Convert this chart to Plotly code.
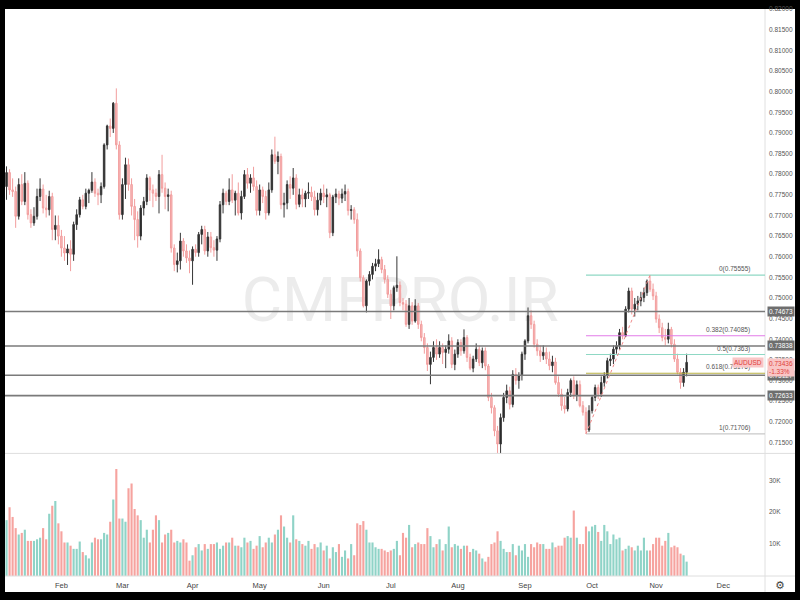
import pandas as pd
import plotly.graph_objects as go
from plotly.subplots import make_subplots

# ---------------- data ----------------
start_date = "2021-01-06"
symbol = "AUDUSD"
last_price = 0.73436
last_change = "-1.33%"

opens = [
 .7770,.7804,.7762,.7758,.7698,.7775,.7734,.7778,.7702,.7682,
 .7698,.7746,.7764,.7718,.7714,.7746,.7666,.7676,.7650,.7621,
 .7609,.7619,.7606,.7678,.7702,.7738,.7722,.7754,.7761,.7781,
 .7754,.7750,.7770,.7871,.7917,.7911,.7972,.7871,.7702,.7775,
 .7823,.7775,.7722,.7690,.7650,.7718,.7734,.7791,.7762,.7754,
 .7746,.7799,.7766,.7746,.7750,.7621,.7581,.7590,.7638,.7614,
 .7597,.7590,.7618,.7610,.7654,.7666,.7614,.7648,.7622,.7616,
 .7643,.7726,.7754,.7734,.7762,.7737,.7754,.7706,.7746,.7799,
 .7778,.7791,.7770,.7712,.7762,.7746,.7706,.7762,.7847,.7831,
 .7843,.7726,.7730,.7775,.7766,.7791,.7727,.7750,.7740,.7754,
 .7756,.7745,.7714,.7737,.7754,.7745,.7750,.7658,.7745,.7752,
 .7742,.7752,.7758,.7712,.7714,.7690,.7614,.7549,.7481,.7541,
 .7557,.7577,.7583,.7593,.7569,.7545,.7509,.7481,.7525,.7531,
 .7489,.7485,.7436,.7481,.7444,.7481,.7436,.7404,.7380,.7339,
 .7356,.7380,.7364,.7380,.7368,.7376,.7396,.7339,.7364,.7392,
 .7372,.7404,.7356,.7330,.7352,.7376,.7343,.7372,.7335,.7259,
 .7234,.7178,.7146,.7210,.7259,.7275,.7242,.7315,.7300,.7312,
 .7364,.7396,.7457,.7436,.7388,.7372,.7360,.7368,.7352,.7336,
 .7345,.7295,.7267,.7239,.7231,.7271,.7300,.7265,.7290,.7239,
 .7223,.7180,.7227,.7259,.7283,.7267,.7295,.7312,.7348,.7352,
 .7376,.7384,.7416,.7408,.7473,.7517,.7473,.7485,.7493,.7501,
 .7513,.7541,.7521,.7505,.7449,.7428,.7404,.7400,.7424,.7388,
 .7352,.7320,.7295,.7320]
highs = [
 .7819,.7812,.7790,.7770,.7790,.7800,.7805,.7785,.7715,.7720,
 .7765,.7790,.7775,.7750,.7760,.7755,.7700,.7700,.7665,.7650,
 .7630,.7640,.7685,.7715,.7745,.7750,.7765,.7765,.7805,.7790,
 .7765,.7780,.7875,.7920,.7935,.7975,.8008,.7880,.7790,.7840,
 .7838,.7790,.7740,.7710,.7725,.7745,.7800,.7795,.7775,.7765,
 .7810,.7847,.7780,.7765,.7760,.7630,.7610,.7658,.7645,.7630,
 .7615,.7625,.7630,.7660,.7675,.7675,.7660,.7660,.7640,.7650,
 .7735,.7765,.7760,.7790,.7800,.7760,.7780,.7760,.7810,.7815,
 .7800,.7818,.7785,.7775,.7770,.7760,.7780,.7860,.7891,.7855,
 .7850,.7755,.7785,.7795,.7815,.7800,.7765,.7765,.7760,.7780,
 .7770,.7760,.7755,.7765,.7775,.7765,.7755,.7750,.7765,.7760,
 .7765,.7775,.7765,.7725,.7720,.7705,.7620,.7555,.7545,.7565,
 .7585,.7595,.7618,.7600,.7580,.7555,.7520,.7530,.7601,.7540,
 .7500,.7495,.7500,.7490,.7497,.7488,.7445,.7415,.7390,.7370,
 .7395,.7400,.7395,.7390,.7385,.7412,.7405,.7375,.7400,.7400,
 .7424,.7410,.7365,.7360,.7390,.7385,.7380,.7380,.7340,.7270,
 .7240,.7190,.7220,.7270,.7290,.7285,.7325,.7330,.7320,.7370,
 .7400,.7477,.7470,.7445,.7400,.7385,.7385,.7380,.7370,.7360,
 .7355,.7310,.7280,.7260,.7280,.7305,.7310,.7300,.7300,.7250,
 .7235,.7240,.7265,.7290,.7290,.7310,.7320,.7355,.7365,.7385,
 .7395,.7425,.7430,.7480,.7525,.7525,.7500,.7505,.7515,.7525,
 .7545,.75555,.7535,.7515,.7460,.7440,.7425,.7440,.7430,.7400,
 .7365,.7330,.7330,.7365]
lows = [
 .7738,.7750,.7745,.7670,.7690,.7725,.7725,.7690,.7670,.7675,
 .7690,.7735,.7705,.7695,.7700,.7640,.7640,.7630,.7600,.7590,
 .7580,.7565,.7590,.7665,.7695,.7715,.7715,.7730,.7755,.7745,
 .7725,.7730,.7765,.7860,.7890,.7900,.7860,.7690,.7690,.7740,
 .7760,.7700,.7640,.7622,.7640,.7700,.7725,.7735,.7720,.7735,
 .7705,.7755,.7715,.7710,.7610,.7565,.7562,.7569,.7600,.7585,
 .7560,.7532,.7600,.7600,.7630,.7605,.7600,.7610,.7600,.7590,
 .7635,.7705,.7725,.7725,.7730,.7700,.7700,.7690,.7740,.7765,
 .7755,.7760,.7700,.7700,.7730,.7690,.7700,.7755,.7825,.7800,
 .7715,.7695,.7715,.7740,.7750,.7715,.7720,.7720,.7720,.7740,
 .7735,.7700,.7700,.7725,.7730,.7720,.7645,.7650,.7730,.7725,
 .7730,.7735,.7700,.7690,.7680,.7600,.7540,.7477,.7465,.7530,
 .7545,.7565,.7575,.7560,.7535,.7500,.7449,.7470,.7515,.7480,
 .7470,.7430,.7425,.7435,.7440,.7425,.7395,.7365,.7323,.7291,
 .7345,.7350,.7355,.7340,.7330,.7365,.7330,.7325,.7355,.7360,
 .7365,.7345,.7325,.7320,.7345,.7335,.7330,.7325,.7250,.7220,
 .7165,.7115,.7110,.7200,.7245,.7230,.7235,.7290,.7280,.7300,
 .7350,.7390,.7425,.7380,.7360,.7345,.7350,.7340,.7325,.7320,
 .7290,.7260,.7227,.7220,.7225,.7260,.7255,.7250,.7235,.7215,
 .71706,.7175,.7220,.7250,.7255,.7260,.7285,.7305,.7335,.7340,
 .7365,.7375,.7400,.7405,.7465,.7460,.7455,.7470,.7480,.7490,
 .7505,.7515,.7495,.7440,.7415,.7395,.7385,.7390,.7380,.7345,
 .7315,.7280,.7285,.7310]
closes = [
 .7804,.7762,.7758,.7698,.7775,.7734,.7778,.7702,.7682,.7698,
 .7746,.7764,.7718,.7714,.7746,.7666,.7676,.7650,.7621,.7609,
 .7619,.7606,.7678,.7702,.7738,.7722,.7754,.7761,.7781,.7754,
 .7750,.7770,.7871,.7917,.7911,.7972,.7871,.7702,.7775,.7823,
 .7775,.7722,.7690,.7650,.7718,.7734,.7791,.7762,.7754,.7746,
 .7799,.7766,.7746,.7750,.7621,.7581,.7590,.7638,.7614,.7597,
 .7590,.7618,.7610,.7654,.7666,.7614,.7648,.7622,.7616,.7643,
 .7726,.7754,.7734,.7762,.7737,.7754,.7706,.7746,.7799,.7778,
 .7791,.7770,.7712,.7762,.7746,.7706,.7762,.7847,.7831,.7843,
 .7726,.7730,.7775,.7766,.7791,.7727,.7750,.7740,.7754,.7756,
 .7745,.7714,.7737,.7754,.7745,.7750,.7658,.7745,.7752,.7742,
 .7752,.7758,.7712,.7714,.7690,.7614,.7549,.7481,.7541,.7557,
 .7577,.7583,.7593,.7569,.7545,.7509,.7481,.7525,.7531,.7489,
 .7485,.7436,.7481,.7444,.7481,.7436,.7404,.7380,.7339,.7356,
 .7380,.7364,.7380,.7368,.7376,.7396,.7339,.7364,.7392,.7372,
 .7404,.7356,.7330,.7352,.7376,.7343,.7372,.7335,.7259,.7234,
 .7178,.7146,.7210,.7259,.7275,.7242,.7315,.7300,.7312,.7364,
 .7396,.7457,.7436,.7388,.7372,.7360,.7368,.7352,.7336,.7345,
 .7295,.7267,.7239,.7231,.7271,.7300,.7265,.7290,.7239,.7223,
 .7180,.7227,.7259,.7283,.7267,.7295,.7312,.7348,.7352,.7376,
 .7384,.7416,.7408,.7473,.7517,.7473,.7485,.7493,.7501,.7513,
 .7541,.7521,.7505,.7449,.7428,.7404,.7400,.7424,.7388,.7352,
 .7320,.7295,.7320,.7344]
volumes_k = [
 17.5,21.5,18.5,15.0,13.0,13.5,14.5,11.0,11.0,11.0,
 11.5,12.0,15.0,11.5,19.5,22.0,23.5,16.5,14.0,10.5,
 10.5,9.5,8.5,8.5,10.8,7.5,6.5,5.5,10.5,12.0,
 11.5,11.5,13.5,13.0,17.0,24.0,33.5,18.0,18.0,17.0,
 27.5,29.0,21.0,19.0,17.5,12.0,14.5,10.5,14.5,19.0,
 17.5,10.5,13.0,13.5,14.5,10.5,11.0,10.5,11.5,10.5,
 4.8,6.5,9.0,10.0,8.0,10.0,8.5,10.0,10.0,10.5,
 8.5,9.5,10.5,10.5,12.0,9.5,9.5,9.0,12.0,10.5,
 11.0,8.5,9.5,12.5,9.0,10.5,12.0,10.5,13.0,14.5,
 19.0,15.5,12.0,10.5,19.0,11.5,11.0,10.0,9.5,11.0,
 8.5,10.0,9.0,10.5,8.0,9.5,5.5,9.0,7.5,10.0,
 6.0,8.0,5.5,10.0,6.5,16.5,16.0,17.2,14.5,10.5,
 10.5,9.0,8.5,8.5,8.0,7.5,8.0,8.5,11.0,6.5,
 13.5,12.0,16.0,9.0,10.0,10.5,10.0,10.0,15.0,12.5,
 9.0,10.0,11.5,8.0,10.0,15.5,9.0,10.0,9.5,8.5,
 9.5,9.5,7.5,8.5,8.0,7.0,5.5,4.5,6.0,10.0,
 10.5,14.0,11.0,8.5,7.5,7.5,10.0,6.5,9.5,8.0,
 10.0,6.0,10.0,9.0,10.5,10.0,10.0,8.5,8.5,10.5,
 9.0,9.5,9.5,12.0,12.5,12.0,20.5,12.0,10.0,10.0,
 15.5,14.0,15.5,16.0,13.8,11.0,16.0,14.0,10.0,13.0,
 11.5,12.0,8.0,8.5,9.5,9.0,8.0,9.5,8.0,12.0,
 8.0,8.0,10.0,12.0,12.0,9.5,11.0,13.5,9.0,9.5,
 9.0,7.0,6.5,4.5]

month_labels = ["Feb", "Mar", "Apr", "May", "Jun", "Jul", "Aug", "Sep", "Oct", "Nov", "Dec"]
volume_ticks = [10, 20, 30]
volume_ticktext = ["10K", "20K", "30K"]

h_levels = [0.74673, 0.73838, 0.73127, 0.72633]

fib_low_date = "2021-09-29"
fib_high_date = "2021-10-28"
fib_prices = [0.75555, 0.74085, 0.7363, 0.73176, 0.71706]
fib_texts = ["0(0.75555)", "0.382(0.74085)", "0.5(0.7363)", "0.618(0.73176)", "1(0.71706)"]
fib_colors = ["#8fd8c4", "#e27be8", "#8fd8c4", "#b9b042", "#c9c9c9"]

# ---------------- derived positions ----------------
dates = pd.bdate_range(start_date, periods=len(closes))
calendar = pd.bdate_range(start_date, "2021-12-31")
idx = list(range(len(dates)))
cal_pos = {d: i for i, d in enumerate(calendar)}
month_pos = [i for i in range(1, len(calendar)) if calendar[i].month != calendar[i - 1].month]
fib_x0 = cal_pos[pd.Timestamp(fib_low_date)]
fib_x1 = cal_pos[pd.Timestamp(fib_high_date)]

X_RANGE = [-0.5, 248.7]
Y_RANGE = [0.71233, 0.82004]
V_RANGE = [0, 38.4]
PANE_SPLIT = 0.2162

UP_FILL, UP_LINE = "#262626", "#363636"
DN_FILL, DN_LINE = "#f7bcbc", "#f29d9d"
VOL_UP, VOL_DN = "#8fd3c7", "#f6a39f"
FONT = "Liberation Sans, Arial"

fig = make_subplots(rows=2, cols=1, shared_xaxes=True, vertical_spacing=0,
                    row_heights=[1 - PANE_SPLIT, PANE_SPLIT])

fig.add_trace(go.Candlestick(
    x=idx, open=opens, high=highs, low=lows, close=closes,
    increasing=dict(fillcolor=UP_FILL, line=dict(color=UP_LINE, width=1)),
    decreasing=dict(fillcolor=DN_FILL, line=dict(color=DN_LINE, width=1)),
    whiskerwidth=0, name=symbol, hoverinfo="skip"), row=1, col=1)

vol_colors = [VOL_UP if c >= o else VOL_DN for o, c in zip(opens, closes)]
fig.add_trace(go.Bar(x=idx, y=volumes_k, marker=dict(color=vol_colors, line=dict(width=0)),
                     name="Volume", hoverinfo="skip"), row=2, col=1)

shapes = []
# white chart canvas inside the black frame
shapes.append(dict(type="rect", xref="paper", yref="paper", x0=0, x1=1.0395, y0=-0.0281, y1=1,
                   fillcolor="white", line=dict(width=0), layer="below"))
# watermark
shapes.append(dict(type="rect", xref="paper", yref="paper", x0=0.25, x1=0.79, y0=0.40, y1=0.59,
                   fillcolor="rgba(0,0,0,0)", line=dict(width=0), layer="below",
                   label=dict(text="CMFPRO.IR", textposition="middle center",
                              font=dict(size=62, color="#ececec", family="Roboto"))))
# axis / pane separators
shapes.append(dict(type="line", xref="paper", yref="paper", x0=1, x1=1, y0=-0.0281, y1=1,
                   line=dict(color="#e0e0e0", width=1)))
shapes.append(dict(type="line", xref="paper", yref="paper", x0=0, x1=1.0395, y0=PANE_SPLIT, y1=PANE_SPLIT,
                   line=dict(color="#dedede", width=1)))
shapes.append(dict(type="line", xref="paper", yref="paper", x0=0, x1=1.0395, y0=0, y1=0,
                   line=dict(color="#dedede", width=1)))
# horizontal support/resistance lines
for lv in h_levels:
    shapes.append(dict(type="line", xref="paper", yref="y", x0=0, x1=1, y0=lv, y1=lv,
                       line=dict(color="#7a7a7a", width=1.6)))
# fibonacci lines
for p, col in zip(fib_prices, fib_colors):
    shapes.append(dict(type="line", xref="x", yref="y", x0=fib_x0, x1=X_RANGE[1], y0=p, y1=p,
                       line=dict(color=col, width=1.2)))
shapes.append(dict(type="line", xref="x", yref="y", x0=fib_x0, x1=fib_x1,
                   y0=fib_prices[-1], y1=fib_prices[0],
                   line=dict(color="#f08a8a", width=1, dash="dot")))

annotations = []
for p, t in zip(fib_prices, fib_texts):
    annotations.append(dict(xref="paper", yref="y", x=0.983, y=p, text=t, showarrow=False,
                            xanchor="right", yanchor="bottom", yshift=0,
                            font=dict(size=6.5, color="#555555", family=FONT)))
for lv in h_levels:
    annotations.append(dict(xref="paper", yref="y", x=1, y=lv, text=f"{lv:.5f}", showarrow=False,
                            xanchor="left", yanchor="middle", xshift=2, bgcolor="#6e6e6e",
                            borderpad=1, font=dict(size=6.5, color="white", family=FONT)))
annotations.append(dict(xref="paper", yref="y", x=1, y=last_price,
                        text=f"{last_price:.5f}<br>{last_change}", showarrow=False,
                        xanchor="left", yanchor="top", xshift=2, yshift=5, align="left",
                        bgcolor="#f9c6c6", borderpad=1,
                        font=dict(size=6.5, color="#e0403a", family=FONT)))
annotations.append(dict(xref="paper", yref="y", x=1, y=last_price, text=symbol, showarrow=False,
                        xanchor="right", yanchor="middle", xshift=-1, bgcolor="#f9c6c6",
                        borderpad=1, font=dict(size=6.5, color="#e0403a", family=FONT)))
annotations.append(dict(xref="paper", yref="paper", x=1.0197, y=-0.016, text="⚙", showarrow=False,
                        xanchor="center", yanchor="middle",
                        font=dict(size=11, color="#444444", family="DejaVu Sans")))

fig.update_layout(
    width=800, height=600,
    margin=dict(l=5, r=35, t=7, b=24),
    paper_bgcolor="black", plot_bgcolor="white",
    showlegend=False, bargap=0.3, hovermode=False,
    shapes=shapes, annotations=annotations,
    font=dict(family=FONT, size=7, color="#555555"),
)
fig.update_xaxes(range=X_RANGE, showgrid=False, zeroline=False, showline=False,
                 rangeslider=dict(visible=False))
fig.update_xaxes(showticklabels=False, row=1, col=1)
fig.update_xaxes(tickmode="array", tickvals=month_pos, ticktext=month_labels, ticks="",
                 ticklabelstandoff=3, tickfont=dict(size=7.5, color="#444444", family=FONT),
                 row=2, col=1)
fig.update_yaxes(side="right", range=Y_RANGE, dtick=0.005, tick0=0, tickformat=".5f",
                 showgrid=False, zeroline=False, showline=False, ticks="",
                 ticklabelstandoff=3, tickfont=dict(size=6.5, color="#555555", family=FONT),
                 row=1, col=1)
fig.update_yaxes(side="right", range=V_RANGE, tickmode="array", tickvals=volume_ticks,
                 ticktext=volume_ticktext, showgrid=False, zeroline=False, showline=False,
                 ticks="", ticklabelstandoff=3,
                 tickfont=dict(size=6.5, color="#555555", family=FONT), row=2, col=1)

fig.write_html("out.html",
               config={"displayModeBar": False, "staticPlot": True},
               post_script="document.body.style.margin='0px';document.body.style.padding='0px';"
                           "document.body.style.background='black';")
